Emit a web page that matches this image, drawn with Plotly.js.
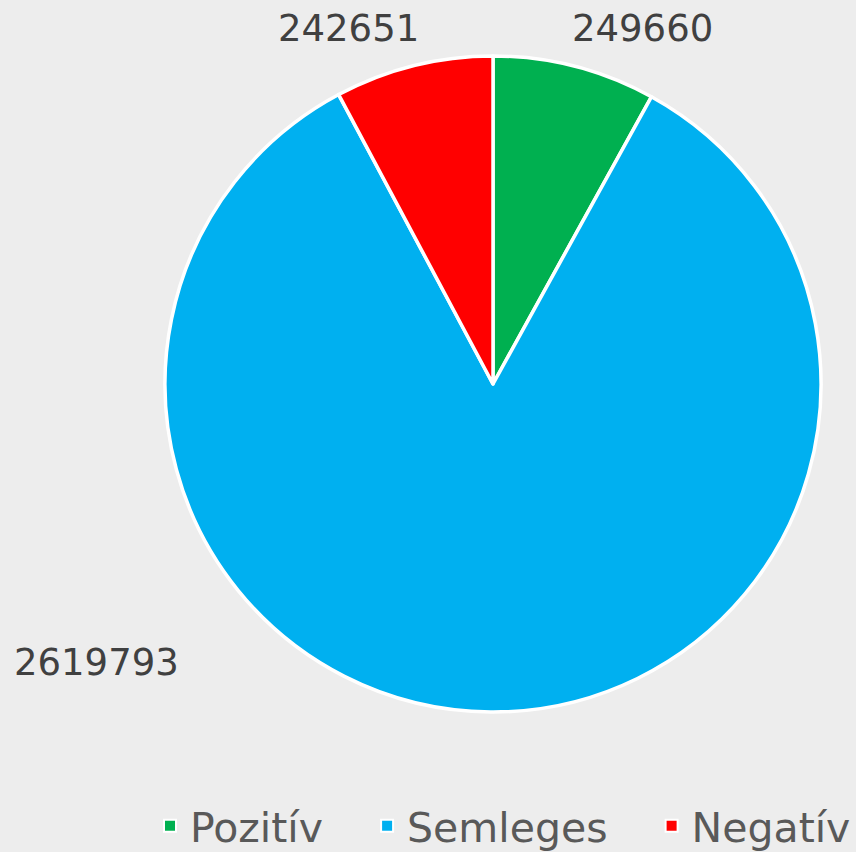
<!DOCTYPE html>
<html><head><meta charset="utf-8">
<script src="https://cdn.plot.ly/plotly-3.0.1.min.js"></script>
<style>html,body{margin:0;padding:0;background:#EDEDED;}</style>
</head><body>
<div id="chart" style="width:856px;height:852px;"></div>
<script>
const categories = ["Pozitív", "Semleges", "Negatív"];
const values = [249660, 2619793, 242651];
const colors = ["#00B050", "#00B0F0", "#FF0000"];
// label anchor positions (paper coords) for the value labels
const labelX = [642/856, 96/856, 348/856];
const labelY = [1 - 28/852, 1 - 662/852, 1 - 28/852];

// legend spacing: pad entries (except the last) with non-breaking spaces
const NBSP = "\u00a0";
const legendLabels = categories.map((c, i) => i < categories.length - 1 ? c + NBSP.repeat(3) : c);

const trace = {
  type: "pie",
  labels: legendLabels,
  values: values,
  sort: false,
  direction: "clockwise",
  rotation: 0,
  marker: {colors: colors, line: {color: "#FFFFFF", width: 3.5}},
  textinfo: "none",
  textposition: "none",
  hoverinfo: "label+value",
  domain: {x: [165/856, 821/856], y: [1 - 712/852, 1 - 56/852]}
};

const annotations = categories.map((c, i) => ({
  xref: "paper", yref: "paper",
  x: labelX[i], y: labelY[i],
  xanchor: "center", yanchor: "middle",
  text: String(values[i]),
  showarrow: false,
  font: {family: "DejaVu Sans, Verdana, sans-serif", size: 37, color: "#404040"}
}));

const layout = {
  width: 856, height: 852,
  margin: {l: 0, r: 0, t: 0, b: 0, autoexpand: false},
  paper_bgcolor: "#EDEDED",
  plot_bgcolor: "#EDEDED",
  showlegend: true,
  annotations: annotations,
  legend: {
    orientation: "h", x: 1, xanchor: "right", y: 1 - 826/852, yanchor: "middle",
    font: {family: "DejaVu Sans, Verdana, sans-serif", size: 41, color: "#595959"},
    itemsizing: "constant", traceorder: "normal"
  },
  font: {family: "DejaVu Sans, Verdana, sans-serif"}
};

Plotly.newPlot("chart", [trace], layout, {displayModeBar: false, staticPlot: true});
</script>
</body></html>
